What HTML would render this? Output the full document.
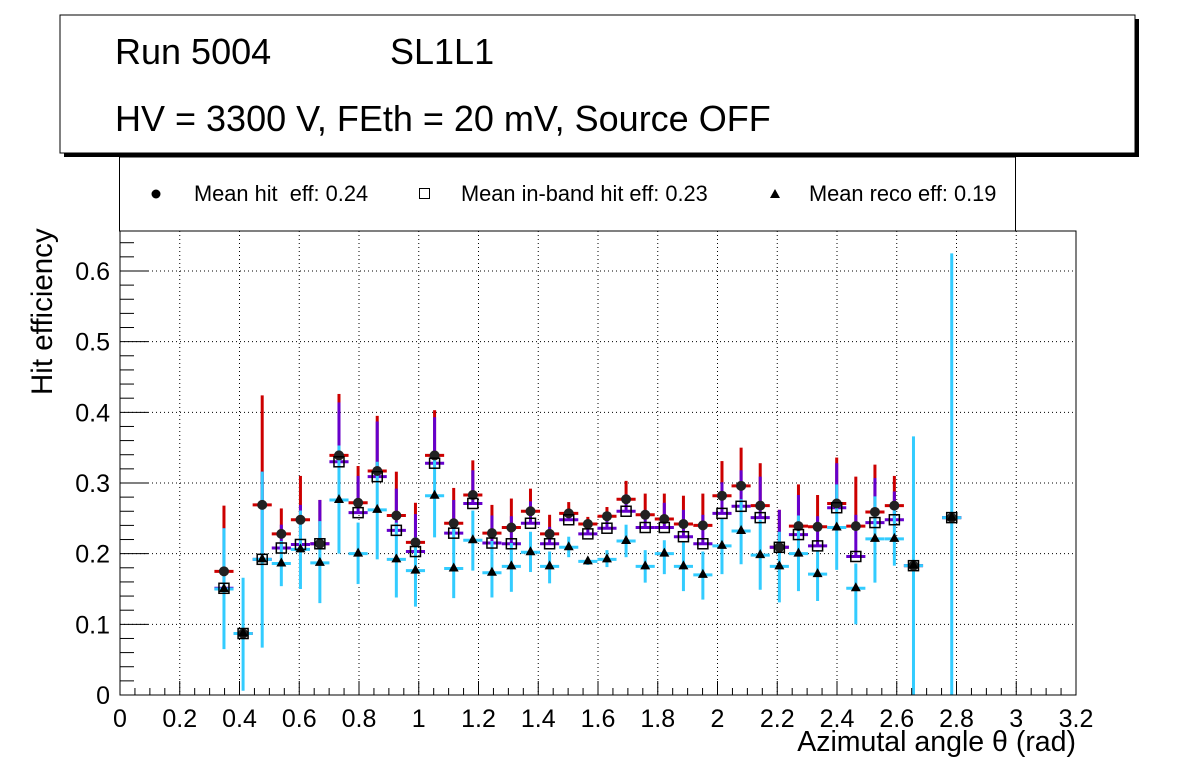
<!DOCTYPE html>
<html><head><meta charset="utf-8"><style>
body{margin:0;background:#fff;}
svg{display:block;font-family:"Liberation Sans",sans-serif;}
text{white-space:pre;}
</style></head><body>
<svg id="chart" width="1196" height="772" viewBox="0 0 1196 772">
<rect x="64" y="19" width="1075" height="138" fill="#000"/>
<rect x="60" y="15" width="1075" height="138" fill="#fff" stroke="#000" stroke-width="1"/>
<text x="115" y="64" font-size="36">Run 5004</text>
<text x="390" y="64" font-size="36">SL1L1</text>
<text x="115" y="131" font-size="36">HV = 3300 V, FEth = 20 mV, Source OFF</text>
<rect x="119.5" y="157" width="896" height="74" fill="#fff" stroke="#000" stroke-width="1"/>
<g><circle cx="156" cy="194" r="4.5" fill="#000"/><text x="194" y="201" font-size="21.8">Mean hit  eff: 0.24</text></g>
<g><rect x="419.5" y="188.5" width="10" height="10" fill="#fff" stroke="#000"/><text x="461" y="201" font-size="21.8">Mean in-band hit eff: 0.23</text></g>
<g><polygon points="775,189 780,198 770,198" fill="#000"/><text x="809" y="201" font-size="21.8">Mean reco eff: 0.19</text></g>
<g id="grid"></g>
<g id="marks"></g>
<rect x="120" y="231" width="956" height="464" fill="none" stroke="#000" stroke-width="1"/>
<g id="axes"></g>
<text x="52" y="395" font-size="29.5" transform="rotate(-90 52 395)">Hit efficiency</text>
<text x="1076" y="751" font-size="28.5" text-anchor="end">Azimutal angle θ (rad)</text>
</svg>
<script>
const xVals=[0.348,0.412,0.476,0.540,0.604,0.669,0.733,0.797,0.861,0.925,0.989,1.053,1.117,1.181,1.245,1.310,1.374,1.438,1.502,1.566,1.630,1.694,1.758,1.822,1.886,1.951,2.015,2.079,2.143,2.207,2.271,2.335,2.399,2.463,2.527,2.592,2.656,2.784];
const hitVals=[.175,.087,.269,.228,.248,.214,.339,.272,.317,.254,.216,.339,.243,.283,.229,.237,.260,.228,.257,.242,.253,.277,.255,.249,.242,.240,.282,.296,.268,.209,.239,.238,.271,.239,.259,.268,.183,.251];
const hitTop=[.268,.087,.424,.264,.310,.276,.426,.324,.395,.316,.272,.403,.293,.332,.269,.278,.292,.255,.273,.252,.266,.303,.285,.285,.282,.285,.331,.350,.328,.262,.298,.283,.336,.309,.326,.310,.183,.251];
const inbandVals=[.151,.087,.192,.208,.213,.214,.330,.258,.309,.233,.203,.328,.229,.271,.215,.214,.243,.214,.248,.228,.236,.260,.237,.237,.224,.214,.257,.267,.251,.209,.227,.211,.265,.196,.244,.248,.183,.251];
const inbandTop=[.236,.087,.316,.241,.269,.276,.414,.310,.387,.292,.256,.393,.276,.318,.254,.253,.274,.238,.262,.238,.248,.284,.262,.272,.262,.255,.301,.318,.309,.262,.283,.253,.328,.255,.307,.288,.183,.251];
const recoVals=[.150,.087,.192,.186,.206,.187,.276,.200,.262,.192,.176,.282,.179,.219,.173,.182,.202,.182,.209,.189,.192,.218,.182,.200,.182,.170,.211,.232,.198,.182,.200,.171,.237,.151,.221,.221,.183,.251];
const recoTop=[.236,.166,.316,.218,.261,.246,.353,.244,.330,.244,.223,.340,.235,.261,.218,.215,.231,.203,.224,.194,.205,.241,.205,.219,.216,.203,.250,.277,.248,.231,.254,.205,.298,.186,.281,.264,.366,.625];
const recoBot=[.065,.006,.067,.154,.150,.130,.200,.157,.192,.138,.125,.223,.137,.176,.138,.146,.174,.158,.195,.184,.181,.195,.159,.171,.147,.135,.171,.185,.149,.131,.147,.133,.177,.100,.159,.183,0,0];
const xTicks=[0,0.2,0.4,0.6,0.8,1,1.2,1.4,1.6,1.8,2,2.2,2.4,2.6,2.8,3,3.2];
const xTickLabels=["0","0.2","0.4","0.6","0.8","1","1.2","1.4","1.6","1.8","2","2.2","2.4","2.6","2.8","3","3.2"];
const yTicks=[0,0.1,0.2,0.3,0.4,0.5,0.6];
const yTickLabels=["0","0.1","0.2","0.3","0.4","0.5","0.6"];
const NS="http://www.w3.org/2000/svg";
const X=v=>120+v*298.75;
const Y=v=>695-v*706.7;
const HW=0.032;
function mk(tag,attrs,parent){const e=document.createElementNS(NS,tag);for(const k in attrs)e.setAttribute(k,attrs[k]);parent.appendChild(e);return e;}
const grid=document.getElementById('grid'),axes=document.getElementById('axes'),marks=document.getElementById('marks');
xTicks.forEach((t,i)=>{
  if(t>0&&t<3.2){const l=mk('line',{x1:X(t),x2:X(t),y1:231,y2:695,stroke:'#000','stroke-dasharray':'1,3','stroke-width':1},grid);
  
  }
  const tk=mk('line',{x1:X(t),x2:X(t),y1:695,y2:681,stroke:'#000'},axes);
  
  
  const tx=mk('text',{x:X(t),y:727,'font-size':25,'text-anchor':'middle'},axes);tx.textContent=xTickLabels[i];
  
  
  if(i<xTicks.length-1){for(let m=1;m<4;m++){const mv=t+m*0.05;mk('line',{x1:X(mv),x2:X(mv),y1:695,y2:688,stroke:'#000'},axes);}}
});
yTicks.forEach((t,i)=>{
  if(t>0){const l=mk('line',{x1:120,x2:1076,y1:Y(t),y2:Y(t),stroke:'#000','stroke-dasharray':'1,3','stroke-width':1},grid);
  
  }
  const tk=mk('line',{x1:120,x2:148,y1:Y(t),y2:Y(t),stroke:'#000'},axes);
  
  
  const tx=mk('text',{x:110,y:Y(t)+9,'font-size':25,'text-anchor':'end'},axes);tx.textContent=yTickLabels[i];
  
  
});
for(let v=0.02;v<0.66;v+=0.02){if(Math.abs(v*10-Math.round(v*10))>0.01)mk('line',{x1:120,x2:134,y1:Y(v),y2:Y(v),stroke:'#000'},axes);}
xVals.forEach((x,i)=>{
  const g=mk('g',{},marks);
  
  
  mk('line',{x1:X(x-HW),x2:X(x+HW),y1:Y(hitVals[i]),y2:Y(hitVals[i]),stroke:'#cc0000','stroke-width':3},g);
  mk('line',{x1:X(x),x2:X(x),y1:Y(hitTop[i]),y2:Y(hitVals[i]),stroke:'#cc0000','stroke-width':3},g);
  mk('line',{x1:X(x-HW),x2:X(x+HW),y1:Y(inbandVals[i]),y2:Y(inbandVals[i]),stroke:'#6600cc','stroke-width':3},g);
  mk('line',{x1:X(x),x2:X(x),y1:Y(inbandTop[i]),y2:Y(inbandVals[i]),stroke:'#6600cc','stroke-width':3},g);
  mk('line',{x1:X(x-HW),x2:X(x+HW),y1:Y(recoVals[i]),y2:Y(recoVals[i]),stroke:'#33ccff','stroke-width':3},g);
  mk('line',{x1:X(x),x2:X(x),y1:Y(recoTop[i]),y2:Y(recoBot[i]),stroke:'#33ccff','stroke-width':3},g);
  const c=mk('circle',{cx:X(x),cy:Y(hitVals[i]),r:5,fill:'#222'},g);
  
  
  const s=mk('rect',{x:X(x)-5,y:Y(inbandVals[i])-5,width:10,height:10,fill:'none',stroke:'#000','stroke-width':1.5},g);
  
  
  const ry=Y(recoVals[i]);
  const t=mk('polygon',{points:`${X(x)},${ry-6} ${X(x)+5},${ry+3} ${X(x)-5},${ry+3}`,fill:'#000'},g);
  
  
});
</script>
</body></html>
